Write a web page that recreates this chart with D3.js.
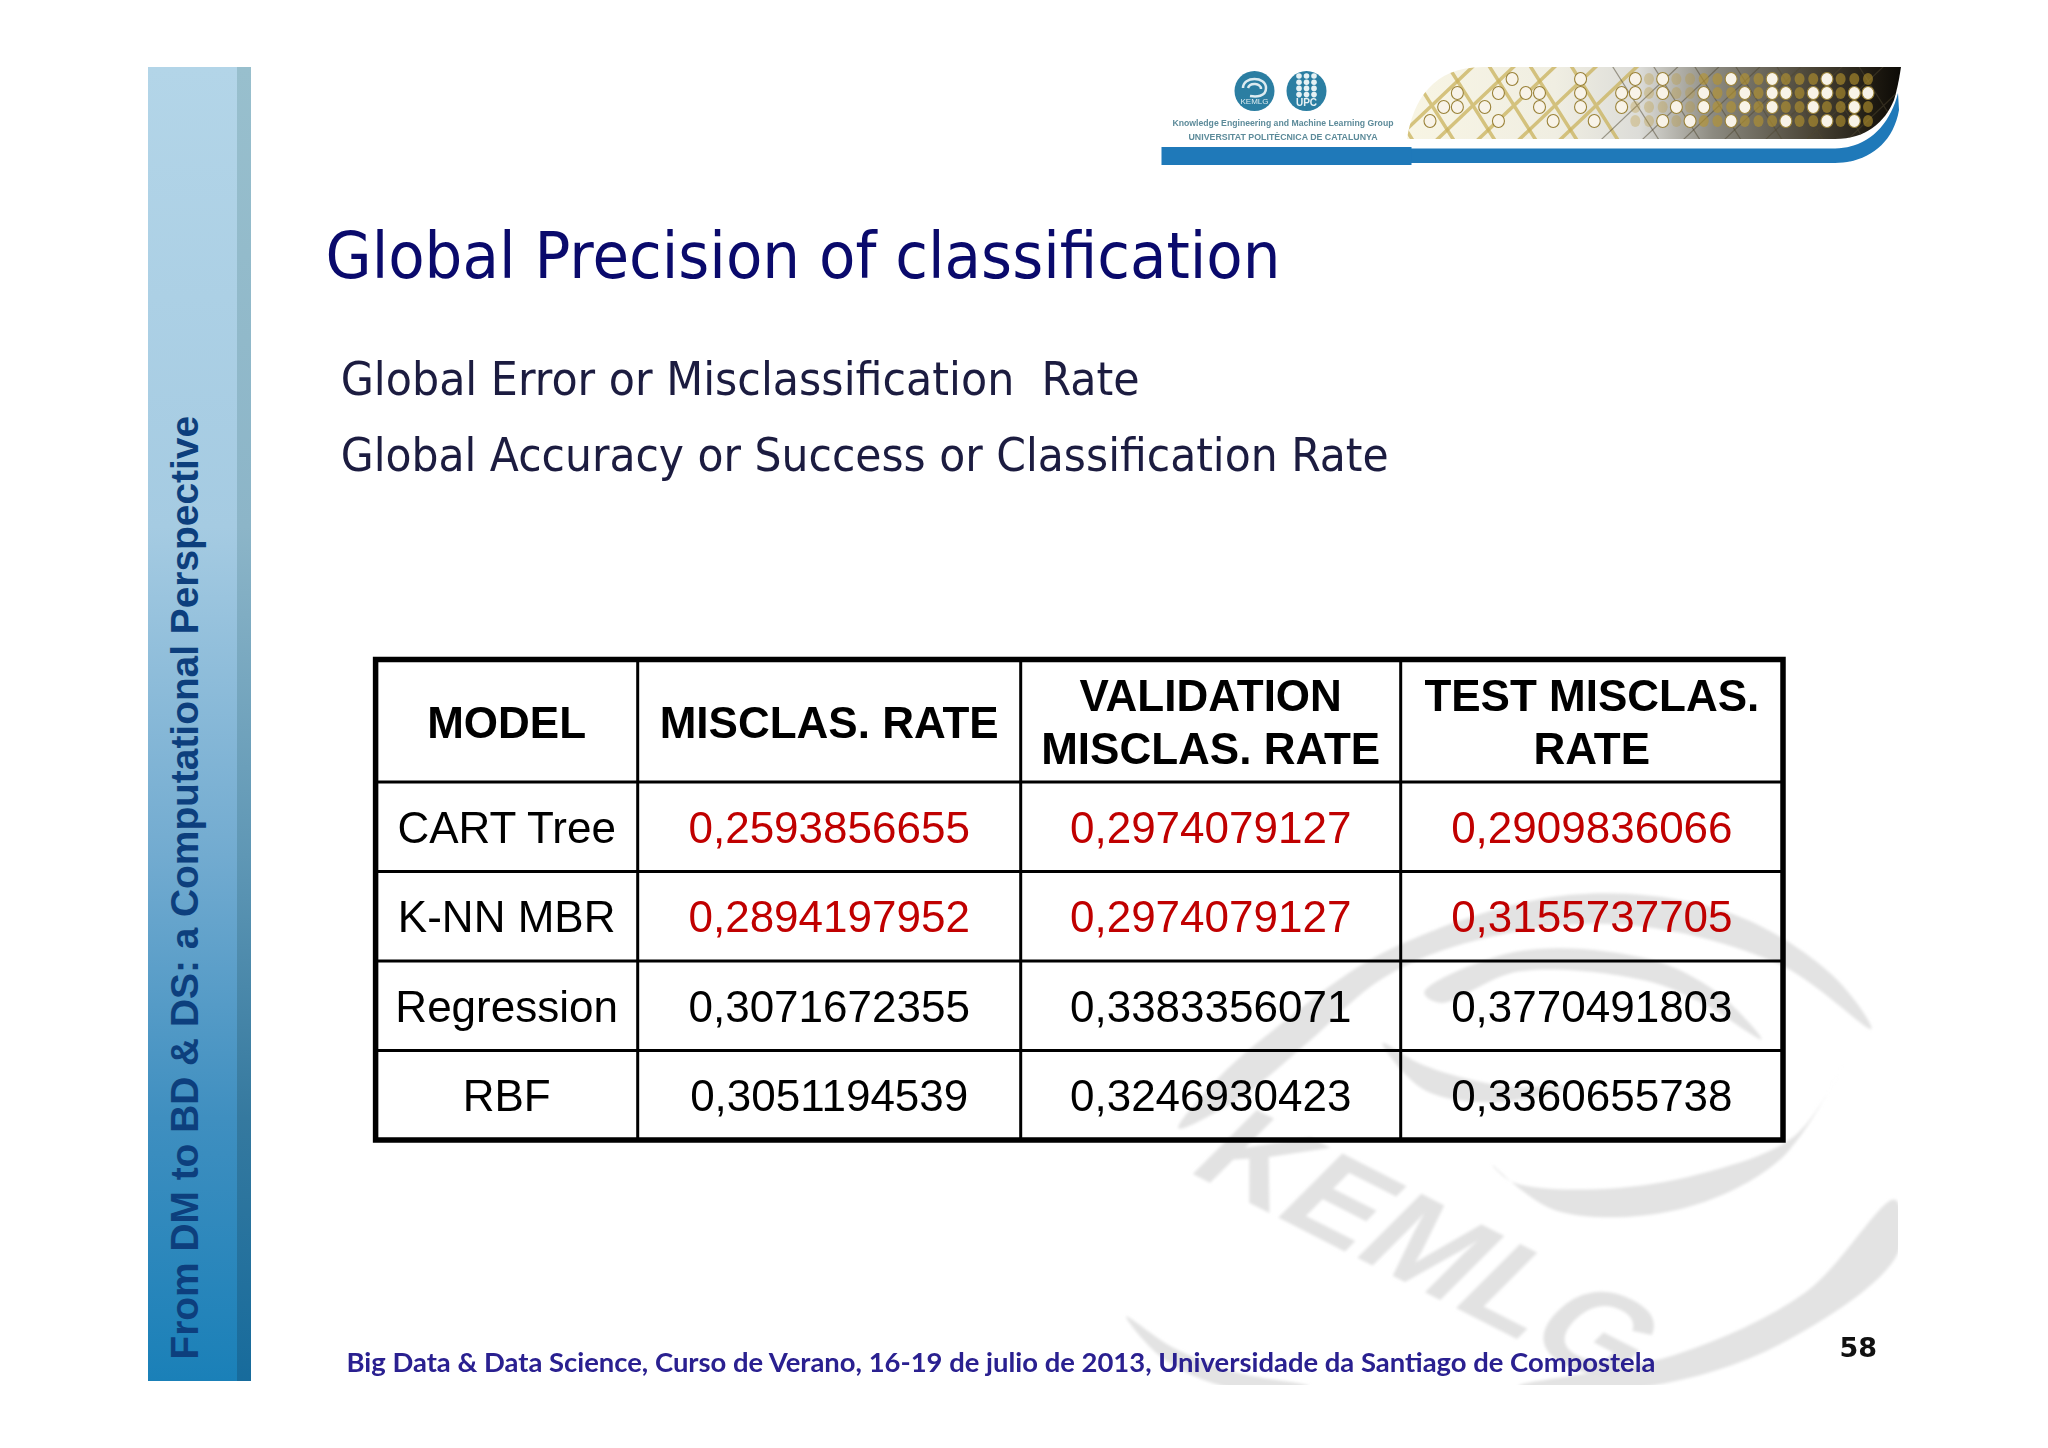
<!DOCTYPE html>
<html><head><meta charset="utf-8">
<script src="https://cdn.jsdelivr.net/npm/d3@7/dist/d3.min.js"></script>
<style>html,body{margin:0;padding:0;background:#fff}svg{display:block}</style>
</head><body><svg id="c" width="2048" height="1448"></svg>
<script>
const models = ["CART Tree","K-NN MBR","Regression","RBF"];
const headers = [["MODEL"],["MISCLAS. RATE"],["VALIDATION","MISCLAS. RATE"],["TEST MISCLAS.","RATE"]];
const misclasRate = [0.2593856655,0.2894197952,0.3071672355,0.3051194539];
const validationRate = [0.2974079127,0.2974079127,0.3383356071,0.3246930423];
const testRate = [0.2909836066,0.3155737705,0.3770491803,0.3360655738];
const highlightedRows = ["CART Tree","K-NN MBR"];
const titleText = "Global Precision of classification";
const bodyLines = ["Global Error or Misclassification  Rate","Global Accuracy or Success or Classification Rate"];
const sideText = "From DM to BD & DS: a Computational Perspective";
const footerText = "Big Data & Data Science, Curso de Verano, 16-19 de julio de 2013, Universidade da Santiago de Compostela";
const pageNumber = "58";
const logoLines = ["Knowledge Engineering and Machine Learning Group","UNIVERSITAT POLITÈCNICA DE CATALUNYA"];
const brailleRows = [[6,11,15,17,22,25,29],[2,5,7,8,11,14,15,17,20,23,25,26,28,29,31,32],[1,2,4,8,11,14,18,20,23,25,28,31],[0,5,9,12,17,19,22,26,29,31]];

const svg = d3.select("#c"), defs = svg.append("defs");
function grad(id,stops,x2,y2){const g=defs.append("linearGradient").attr("id",id).attr("x1",0).attr("y1",0).attr("x2",x2).attr("y2",y2);
  stops.forEach(s=>g.append("stop").attr("offset",s[0]).attr("stop-color",s[1]));}
grad("side",[[0,"#b3d5e8"],[.35,"#a5cbe2"],[.6,"#72abd0"],[.8,"#3f8fc0"],[1,"#1a80b8"]],0,1);
grad("strip",[[0,"#98bfcd"],[.35,"#8cb5c8"],[.6,"#5f97b5"],[.8,"#35799f"],[1,"#176b9c"]],0,1);
grad("band",[[0,"#f8f5e4"],[.3,"#f0eee2"],[.47,"#dcdcd8"],[.62,"#8c8a80"],[.82,"#4a4436"],[.95,"#1c1810"],[1,"#0c0a06"]],1,0);
defs.append("filter").attr("id","soft").append("feGaussianBlur").attr("stdDeviation",.7);
defs.append("filter").attr("id","wmsoft").append("feGaussianBlur").attr("stdDeviation",1.6);
defs.append("clipPath").attr("id","wmclip").append("rect").attr("x",1100).attr("y",860).attr("width",798).attr("height",525);

// watermark
const zx=v=>1100+v/1.912, zy=v=>860+v/2.87;
const blob=d3.line().x(d=>zx(d[0])).y(d=>zy(d[1])).curve(d3.curveCatmullRomClosed.alpha(.5));
const wmShapes=[
 [[150,770],[230,620],[330,490],[550,260],[900,100],[1200,150],[1400,330],[1475,485],[1300,300],[1000,185],[720,230],[540,340],[400,520],[270,680]],
 [[620,380],[800,262],[1050,285],[1180,380],[1265,515],[1150,410],[1040,345],[800,320],[650,410]],
 [[540,525],[620,590],[780,650],[900,650],[760,695],[620,660]],
 [[750,875],[870,1005],[1100,1005],[1300,860],[1420,590],[1330,790],[1150,900],[950,945],[790,925]],
 [[800,1510],[1100,1420],[1350,1240],[1520,975],[1525,1130],[1300,1390],[1050,1510]],
 [[50,1310],[140,1400],[260,1470],[400,1510],[250,1515],[120,1430]]
];
const wm=svg.append("g").attr("clip-path","url(#wmclip)").append("g").attr("filter","url(#wmsoft)");
wm.append("g").selectAll("path").data(wmShapes).join("path").attr("d",blob).attr("fill","#e0e0e0").attr("opacity",.9);
wm.append("text").attr("transform","translate(1185,1170) rotate(27) skewX(-18)").attr("font-family","Liberation Sans").attr("font-weight",700)
  .attr("font-size",125).attr("fill","#e2e2e2").attr("textLength",480).attr("lengthAdjust","spacingAndGlyphs").text("KEMLG");

// sidebar
svg.append("rect").attr("x",148).attr("y",67).attr("width",89).attr("height",1314).attr("fill","url(#side)");
svg.append("rect").attr("x",237).attr("y",67).attr("width",14).attr("height",1314).attr("fill","url(#strip)");
svg.append("text").attr("transform","translate(198,1359.5) rotate(-90)").attr("font-family","Liberation Sans").attr("font-weight",700)
 .attr("font-size",38).attr("fill","#0d3f7d").attr("textLength",943.5).attr("lengthAdjust","spacingAndGlyphs").text(sideText);

// header band
const bandPath="M1407 139 C1413 100 1433 67 1483 67 L1901 67 C1899 80 1897 90 1894 100 C1885 122 1866 139 1835 139 Z";
defs.append("clipPath").attr("id","bc").append("path").attr("d",bandPath);
svg.append("path").attr("d",bandPath).attr("fill","url(#band)");
const cells=svg.append("g").attr("clip-path","url(#bc)");
const colX=d3.scaleLinear().domain([0,32]).range([1430,1868]), rowY=d3.scaleLinear().domain([0,3]).range([79,121]);
const lat=d3.range(0,33), rws=d3.range(0,4);
const lattice=cells.append("g").attr("filter","url(#soft)");
lattice.selectAll("path").data(d3.range(-1,12)).join("path")
 .attr("d",i=>`M${colX(i*3)-45} 150 L${colX(i*3)+55} 55 M${colX(i*3)-30} 55 L${colX(i*3)+30} 150`)
 .attr("fill","none").attr("stroke",i=>i<5?"#c9b25c":"#4e4630").attr("stroke-width",i=>i<5?3.5:1.2).attr("opacity",i=>i<5?.75:.5);
const flat=brailleRows.flatMap((cols,r)=>cols.map(c=>({r,c})));
const halo=[];rws.forEach(r=>lat.forEach(c=>{if(c>14)halo.push({r,c})}));
cells.append("g").attr("filter","url(#soft)").selectAll("ellipse").data(halo).join("ellipse").attr("cx",d=>colX(d.c)).attr("cy",d=>rowY(d.r)).attr("rx",5).attr("ry",6)
 .attr("fill","#b8952c").attr("opacity",d=>d.c>19?.6:.3);
cells.append("g").attr("filter","url(#soft)").selectAll("ellipse").data(flat).join("ellipse").attr("cx",d=>colX(d.c)).attr("cy",d=>rowY(d.r)).attr("rx",6).attr("ry",6.5)
 .attr("fill","#f8f3e8").attr("stroke","#9a8238").attr("stroke-width",1.1);

svg.append("path").attr("d","M1410 148.5 L1835 148.5 C1868 148 1890 125 1898 93 L1899 110 C1893 145 1866 163 1835 163 L1410 163 Z").attr("fill","#1f79b9");
svg.append("rect").attr("x",1161.5).attr("y",147).attr("width",250).attr("height",18).attr("fill","#1f79b9");

// logos
const logo=svg.append("g");
[1254.5,1306.5].forEach(x=>logo.append("ellipse").attr("cx",x).attr("cy",91).attr("rx",20).attr("ry",20).attr("fill","#2b7ea2"));
logo.append("path").attr("d","M1243 88 C1243 76 1266 76 1266 88 C1266 97 1256 97 1250 96 M1248 88 C1250 82 1261 83 1261 89").attr("fill","none").attr("stroke","#dcebf0").attr("stroke-width",2.5);
logo.append("text").attr("x",1254.5).attr("y",104).attr("text-anchor","middle").attr("font-family","Liberation Sans").attr("font-size",8).attr("fill","#dcebf0").text("KEMLG");
logo.append("g").selectAll("circle").data(d3.range(12)).join("circle").attr("cx",i=>1299+(i%3)*7.5).attr("cy",i=>76+Math.floor(i/3)*6.2).attr("r",2.8).attr("fill","#e6f1f4");
logo.append("text").attr("x",1306.5).attr("y",106).attr("text-anchor","middle").attr("font-family","Liberation Sans").attr("font-weight",700).attr("font-size",10).attr("fill","#e6f1f4").text("UPC");
logo.selectAll("text.ll").data(logoLines).join("text").attr("class","ll").attr("x",1283).attr("y",(d,i)=>i?140:126).attr("text-anchor","middle").attr("font-family","Liberation Sans").attr("font-weight",700)
 .attr("font-size",8.5).attr("fill","#5d8b9a").attr("textLength",(d,i)=>i?189:221).attr("lengthAdjust","spacingAndGlyphs").text(d=>d);

// title & body
svg.append("text").attr("x",325.5).attr("y",277.7).attr("font-family","DejaVu Sans").attr("font-size",64).attr("fill","#0a0a6c")
 .attr("textLength",955).attr("lengthAdjust","spacingAndGlyphs").text(titleText);
svg.selectAll("text.b").data(bodyLines).join("text").attr("class","b").attr("x",340.7).attr("y",(d,i)=>i?470.7:394.7).attr("font-family","DejaVu Sans").attr("font-size",46).attr("fill","#1c1c40")
 .style("white-space","pre").attr("textLength",(d,i)=>i?1048:799).attr("lengthAdjust","spacingAndGlyphs").text(d=>d);

// table
const colEdge=d3.scaleLinear().domain([0,1,2,3,4]).range([375.6,637.7,1020.7,1400.7,1783]);
const tableTop=659.5, headBottom=782, tableBottom=1140;
const rowScale=d3.scaleBand().domain(models).range([headBottom,tableBottom]);
const table=svg.append("g").attr("font-family","Liberation Sans").attr("font-size",44).attr("text-anchor","middle").attr("fill","#000");
const rule=(x1,y1,x2,y2,w)=>table.append("line").attr("x1",x1).attr("y1",y1).attr("x2",x2).attr("y2",y2).attr("stroke","#000").attr("stroke-width",w);
[1,2,3].forEach(c=>rule(colEdge(c),tableTop,colEdge(c),tableBottom,3));
[headBottom,...models.slice(1).map(m=>rowScale(m))].forEach(y=>rule(colEdge(0),y,colEdge(4),y,3));
table.append("rect").attr("x",colEdge(0)).attr("y",tableTop).attr("width",colEdge(4)-colEdge(0)).attr("height",tableBottom-tableTop).attr("fill","none").attr("stroke","#000").attr("stroke-width",5.5);
const cx=c=>(colEdge(c)+colEdge(c+1))/2;
headers.forEach((ls,c)=>ls.forEach((t,i)=>table.append("text").attr("x",cx(c)).attr("y",(tableTop+headBottom)/2+17-(ls.length-1)*26.5+i*53).attr("font-weight",700).text(t)));
const fmt=v=>String(v).replace(".",",");
models.forEach((m,r)=>{
  const y=rowScale(m)+rowScale.bandwidth()/2+16;
  const col=highlightedRows.includes(m)?"#c00000":"#000";
  table.append("text").attr("x",cx(0)).attr("y",y).text(m);
  [misclasRate,validationRate,testRate].forEach((s,c)=>table.append("text").attr("x",cx(c+1)).attr("y",y).attr("fill",col).text(fmt(s[r])));
});

// footer
svg.append("text").attr("x",346.5).attr("y",1372).attr("font-family","Lato").attr("font-weight",700).attr("font-size",26).attr("fill","#2a2090")
 .attr("textLength",1309).attr("lengthAdjust","spacingAndGlyphs").text(footerText);
svg.append("text").attr("x",1839.5).attr("y",1357).attr("font-family","DejaVu Sans").attr("font-weight",700).attr("font-size",27).attr("fill","#111").text(pageNumber);
</script></body></html>
